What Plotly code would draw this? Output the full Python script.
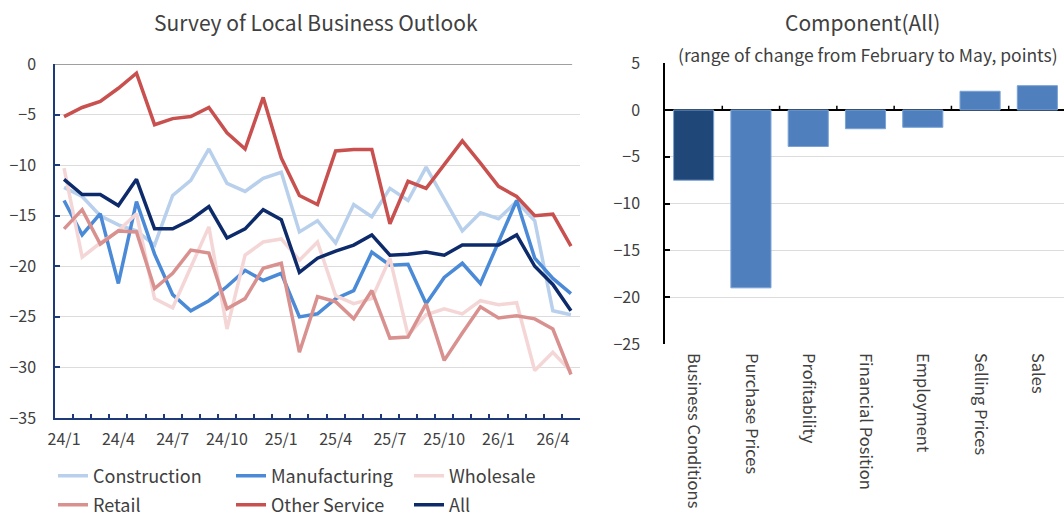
import plotly.graph_objects as go

# ---------------- data ----------------
months = ["24/1", "24/2", "24/3", "24/4", "24/5", "24/6", "24/7", "24/8", "24/9", "24/10",
          "24/11", "24/12", "25/1", "25/2", "25/3", "25/4", "25/5", "25/6", "25/7", "25/8",
          "25/9", "25/10", "25/11", "25/12", "26/1", "26/2", "26/3", "26/4", "26/5"]
quarter_labels = ["24/1", "24/4", "24/7", "24/10", "25/1", "25/4", "25/7", "25/10", "26/1", "26/4"]

construction = [-12.2, -13.1, -15.0, -15.9, -16.5, -17.9, -13.0, -11.5, -8.4, -11.8,
                -12.6, -11.3, -10.7, -16.6, -15.5, -17.7, -13.9, -15.1, -12.3, -13.5,
                -10.2, -13.4, -16.5, -14.7, -15.3, -13.6, -15.5, -24.4, -24.8]
manufacturing = [-13.5, -16.9, -14.8, -21.7, -13.6, -18.8, -22.8, -24.4, -23.4, -22.0,
                 -20.4, -21.4, -20.7, -25.0, -24.7, -23.2, -22.4, -18.6, -19.9, -19.8,
                 -23.7, -21.1, -19.7, -21.7, -17.6, -13.5, -19.2, -21.2, -22.7]
wholesale = [-10.3, -19.1, -17.7, -16.5, -14.8, -23.2, -24.1, -20.2, -16.1, -26.2,
             -18.9, -17.6, -17.3, -19.4, -17.6, -22.9, -23.7, -23.2, -19.2, -26.8,
             -24.8, -24.2, -24.7, -23.4, -23.8, -23.6, -30.3, -28.5, -30.4]
retail = [-16.3, -14.4, -17.8, -16.5, -16.6, -22.2, -20.7, -18.4, -18.7, -24.2,
          -23.2, -20.2, -19.7, -28.5, -23.0, -23.5, -25.2, -22.4, -27.1, -27.0,
          -23.7, -29.3, -26.6, -24.0, -25.1, -24.9, -25.2, -26.2, -30.7]
other_service = [-5.2, -4.3, -3.7, -2.4, -0.9, -6.0, -5.4, -5.2, -4.3, -6.8,
                 -8.4, -3.3, -9.3, -13.0, -13.9, -8.6, -8.45, -8.45, -15.8, -11.6,
                 -12.3, -9.9, -7.6, -9.8, -12.1, -13.1, -15.0, -14.85, -18.0]
all_industries = [-11.4, -12.9, -12.9, -14.0, -11.4, -16.3, -16.3, -15.4, -14.1, -17.2,
                  -16.3, -14.4, -15.4, -20.6, -19.2, -18.5, -17.9, -16.9, -18.9, -18.8,
                  -18.6, -18.9, -17.9, -17.9, -17.9, -16.9, -20.0, -21.8, -24.4]

components = ["Business Conditions", "Purchase Prices", "Profitability", "Financial Position",
              "Employment", "Selling Prices", "Sales"]
changes = [-7.5, -19.0, -3.9, -2.0, -1.85, 2.0, 2.6]

# ---------------- style ----------------
FONT = "Noto Sans CJK JP"
TXT = "#404040"
NAVY = "#1f3a78"
W, H = 1064, 518

series = [
    ("Construction", construction, "#b8d0ec", "legend"),
    ("Manufacturing", manufacturing, "#4a8ad6", "legend"),
    ("Wholesale", wholesale, "#f5d6d6", "legend"),
    ("Retail", retail, "#d99190", "legend2"),
    ("Other Service", other_service, "#c8504e", "legend2"),
    ("All", all_industries, "#0d2a6b", "legend2"),
]

fig = go.Figure()
for name, vals, color, lg in series:
    fig.add_trace(go.Scatter(x=months, y=vals, mode="lines", name=name,
                             line=dict(color=color, width=3.5),
                             legend=lg, xaxis="x", yaxis="y"))

bar_colors = ["#1f4778"] + ["#4f80bd"] * (len(components) - 1)
fig.add_trace(go.Bar(x=components, y=changes, marker=dict(color=bar_colors,
                     line=dict(color="#79a2d6", width=1)),
                     showlegend=False, xaxis="x2", yaxis="y2"))

# zero line of left chart
shapes = [dict(type="line", xref="x domain", yref="y", x0=0, x1=0.985, y0=0, y1=0,
               line=dict(color="#7f7f7f", width=1.5), layer="above")]
# tick marks on the zero line of the bar chart
for i in range(len(components) - 1):
    shapes.append(dict(type="line", xref="x2", yref="y2", x0=i + 0.5, x1=i + 0.5,
                       y0=0, y1=0.45, line=dict(color="black", width=1.5)))

tickfont = dict(family=FONT, size=16, color=TXT)

fig.update_layout(
    width=W, height=H, margin=dict(l=0, r=0, t=0, b=0, autoexpand=False),
    paper_bgcolor="white", plot_bgcolor="white",
    font=dict(family=FONT, color=TXT),
    bargap=0.3,
    shapes=shapes,
    xaxis=dict(domain=[55 / W, 580 / W], anchor="y", type="category", automargin=False,
               categoryorder="array", categoryarray=months, range=[-0.5, len(months) - 0.5],
               tickmode="array", tickvals=months, tickangle=0,
               ticktext=[m if m in quarter_labels else "" for m in months],
               tickson="boundaries", ticks="inside", ticklen=4, tickcolor=NAVY, tickwidth=1.5,
               showline=True, linecolor=NAVY, linewidth=1.5, showgrid=False,
               tickfont=tickfont, ticklabelstandoff=6),
    yaxis=dict(domain=[1 - 418 / H, 1 - 64 / H], anchor="x", range=[-35, 0], dtick=5,
               automargin=False,
               showgrid=True, gridcolor="#dcdcdc", gridwidth=1, zeroline=False,
               showline=True, linecolor=NAVY, linewidth=1.5,
               ticks="inside", ticklen=5, tickcolor=NAVY, tickwidth=1.5,
               tickfont=tickfont, ticklabelstandoff=14),
    xaxis2=dict(domain=[665 / W, 1], anchor="y2", type="category", automargin=False,
                range=[-0.5, 6.465], tickangle=90, showline=False, ticks="",
                showgrid=False, tickfont=dict(family=FONT, size=16.5, color=TXT),
                ticklabelstandoff=8),
    yaxis2=dict(domain=[1 - 344 / H, 1 - 63.2 / H], anchor="x2", range=[-25, 5], dtick=5,
                automargin=False,
                showgrid=True, gridcolor="#dcdcdc", gridwidth=1,
                zeroline=True, zerolinecolor="black", zerolinewidth=1.5,
                showline=True, linecolor="black", linewidth=1.5,
                ticks="inside", ticklen=5, tickcolor="black", tickwidth=1.5,
                tickfont=tickfont, ticklabelstandoff=20),
    legend=dict(orientation="h", x=53 / W, xanchor="left", y=1 - 476 / H, yanchor="middle",
                entrywidth=133, entrywidthmode="pixels", bgcolor="rgba(0,0,0,0)",
                font=dict(family=FONT, size=18, color=TXT)),
    legend2=dict(orientation="h", x=53 / W, xanchor="left", y=1 - 505 / H, yanchor="middle",
                 entrywidth=133, entrywidthmode="pixels", bgcolor="rgba(0,0,0,0)",
                 font=dict(family=FONT, size=18, color=TXT)),
    annotations=[
        dict(text="Survey of Local Business Outlook", xref="paper", yref="paper",
             x=316 / W, y=1 - 22 / H, xanchor="center", yanchor="middle", showarrow=False,
             font=dict(family=FONT, size=21, color=TXT)),
        dict(text="Component(All)", xref="paper", yref="paper",
             x=862 / W, y=1 - 22 / H, xanchor="center", yanchor="middle", showarrow=False,
             font=dict(family=FONT, size=21, color=TXT)),
        dict(text="(range of change from February to May, points)", xref="paper", yref="paper",
             x=868 / W, y=1 - 54 / H, xanchor="center", yanchor="middle", showarrow=False,
             font=dict(family=FONT, size=17.5, color=TXT)),
    ],
)

fig.write_html("out.html")
